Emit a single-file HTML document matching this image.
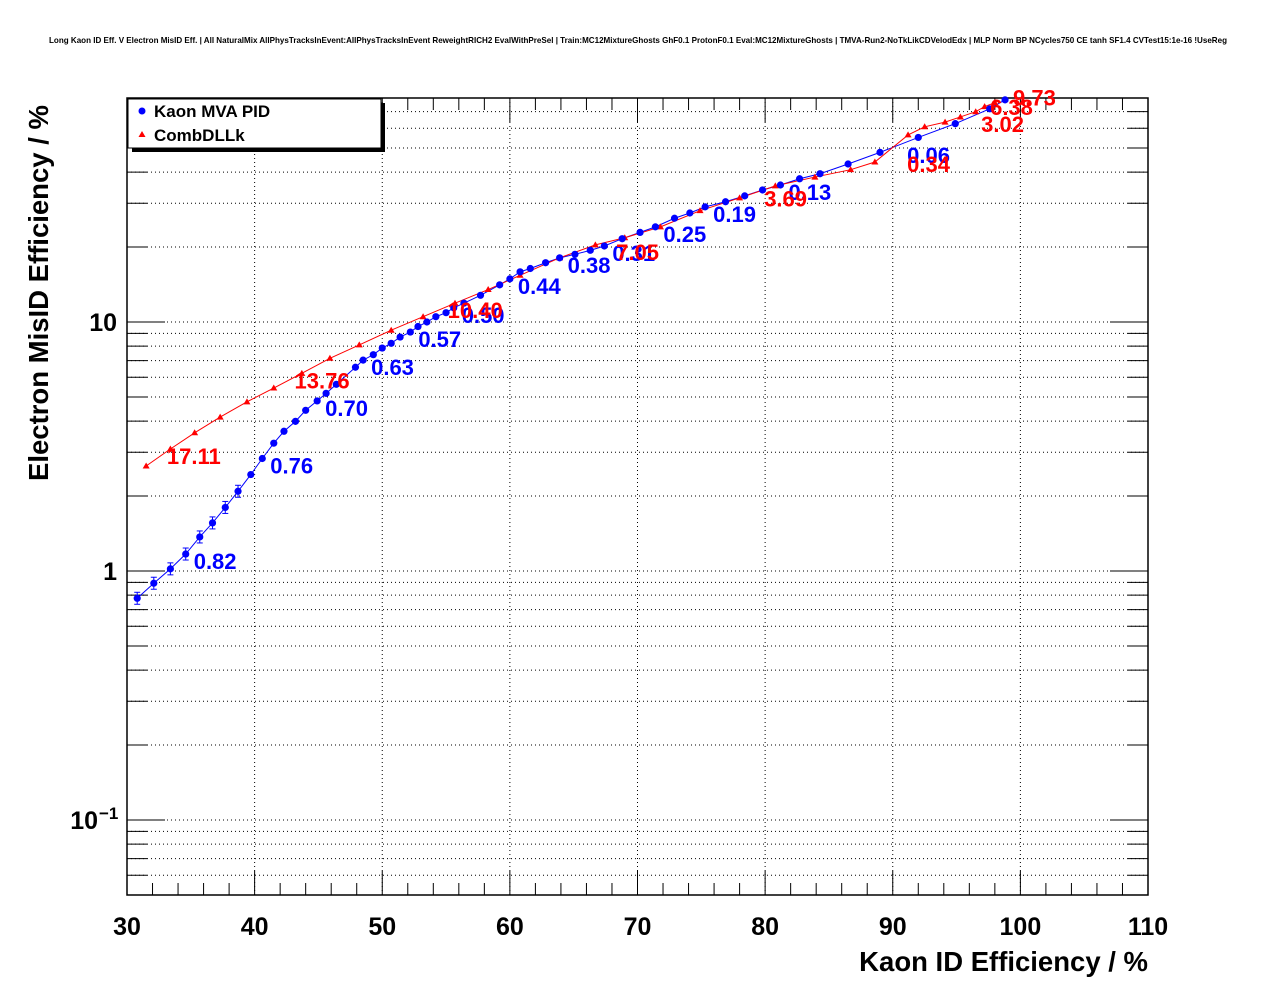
<!DOCTYPE html>
<html><head><meta charset="utf-8"><style>
body{margin:0;background:#fff;}
svg text{font-family:"Liberation Sans",Arial,sans-serif;font-weight:bold;}
</style></head><body>
<svg id="c" width="1276" height="996" xmlns="http://www.w3.org/2000/svg">
<rect width="1276" height="996" fill="#fff"/>
<text x="638" y="43" font-size="8.3" text-anchor="middle" font-weight="normal" textLength="1178" lengthAdjust="spacingAndGlyphs">Long Kaon ID Eff. V Electron MisID Eff. | All NaturalMix AllPhysTracksInEvent:AllPhysTracksInEvent ReweightRICH2 EvalWithPreSel | Train:MC12MixtureGhosts GhF0.1 ProtonF0.1 Eval:MC12MixtureGhosts | TMVA-Run2-NoTkLikCDVelodEdx | MLP Norm BP NCycles750 CE tanh SF1.4 CVTest15:1e-16 !UseReg</text>
<g id="grid"></g>
<g id="axes"></g>
<g id="series"></g>
<text x="1148" y="971" font-size="27.5" text-anchor="end">Kaon ID Efficiency / %</text>
<text transform="translate(48,481) rotate(-90)" font-size="27.5">Electron MisID Efficiency / %</text>
<g>
<rect x="132" y="103" width="253" height="49" fill="#000"/>
<rect x="128" y="99" width="253" height="49" fill="#fff" stroke="#000" stroke-width="1"/>
<circle cx="142" cy="111" r="3.5" fill="#0000ff"/>
<text x="154" y="117" font-size="17">Kaon MVA PID</text>
<path d="M142,131 l3.5,6 h-7 z" fill="#ff0000"/>
<text x="154" y="141" font-size="17">CombDLLk</text>
</g>
</svg>
<script>
const xTicks=[30,40,50,60,70,80,90,100,110];
const yDecades=[0.1,1,10];
const yDecadeLabels=["10","1","10"];
const yDecadeExps=["−1","",""];
const blueX=[30.8,32.1,33.4,34.6,35.7,36.7,37.7,38.7,39.7,40.6,41.5,42.3,43.2,44.0,44.9,45.6,46.4,47.9,48.5,49.3,50.0,50.7,51.4,52.2,52.8,53.5,54.2,55.0,55.6,56.4,57.7,59.2,60.0,60.8,61.6,62.8,63.9,65.1,66.3,67.4,68.8,70.2,71.4,72.9,74.1,75.3,76.9,78.4,79.8,81.2,82.7,84.3,86.5,89.0,92.0,94.9,97.6,98.8];
const blueY=[0.777,0.893,1.02,1.17,1.37,1.56,1.80,2.09,2.44,2.83,3.26,3.64,3.99,4.42,4.82,5.17,5.62,6.58,7.03,7.39,7.86,8.21,8.70,9.11,9.59,10.0,10.5,10.9,11.4,11.9,12.8,14.1,14.9,15.9,16.4,17.3,18.1,18.7,19.4,20.2,21.6,22.9,24.1,26.1,27.4,29.0,30.4,32.1,33.9,35.5,37.6,39.4,43.1,48.0,55.1,62.6,71.8,78.0];
const redX=[31.5,33.4,35.3,37.3,39.4,41.5,43.7,45.9,48.2,50.7,53.2,55.7,58.3,60.8,63.9,66.7,69.0,71.8,74.9,78.0,80.8,83.9,86.7,88.6,91.2,92.5,94.1,95.3,96.5,97.2,98.0];
const redY=[2.64,3.09,3.59,4.15,4.78,5.43,6.22,7.15,8.09,9.27,10.5,11.9,13.5,15.4,18.1,20.4,21.8,24.1,28.0,31.5,35.2,38.2,40.9,43.9,56.4,60.8,63.5,66.6,69.9,73.3,76.0];
const blueLabelX=[34.6,40.6,44.9,48.5,52.2,55.6,60.0,63.9,67.4,71.4,75.3,81.2,90.5];
const blueLabelY=[1.17,2.83,4.82,7.03,9.11,11.4,14.9,18.1,20.2,24.1,29.0,35.5,50.0];
const blueLabels=["0.82","0.76","0.70","0.63","0.57","0.50","0.44","0.38","0.31","0.25","0.19","0.13","0.06"];
const redLabelX=[32.5,42.5,54.5,67.7,79.3,90.5,97.0,98.8,96.3];
const redLabelY=[3.09,6.22,11.9,20.4,33.4,46.0,78.0,85.0,66.6];
const redLabels=["17.11","13.76","10.40","7.05","3.69","0.34","6.38","9.73","3.02"];

const L=127,R=1148,T=98,B=895;
const sx=v=>L+(v-30)*(R-L)/80;
const Y1=571,DEC=249;
const sy=v=>Y1-Math.log10(v)*DEC;
const NS="http://www.w3.org/2000/svg";
function mk(tag,attrs,parent){const e=document.createElementNS(NS,tag);for(const k in attrs)e.setAttribute(k,attrs[k]);parent.appendChild(e);return e;}
const grid=document.getElementById('grid'),axes=document.getElementById('axes'),ser=document.getElementById('series');
for(let v=30;v<=110;v+=2){
  const x=sx(v);const major=(v%10===0);
  if(major&&v>30&&v<110){const g=mk('line',{x1:x,x2:x,y1:T,y2:B,stroke:'#000','stroke-width':1,'stroke-dasharray':'1,3'},grid);
  }
  const len=major?24:12;
  mk('line',{x1:x,x2:x,y1:B,y2:B-len,stroke:'#000','stroke-width':1},axes);
  mk('line',{x1:x,x2:x,y1:T,y2:T+len,stroke:'#000','stroke-width':1},axes);
}
xTicks.forEach(v=>{const t=mk('text',{x:sx(v),y:935,'font-size':25,'text-anchor':'middle'},axes);t.textContent=v;
});
for(let d=-2;d<=1;d++){
  for(let m=1;m<=9;m++){
    const v=m*Math.pow(10,d);const y=sy(v);
    if(y<T||y>B)continue;
    const g=mk('line',{x1:L,x2:R,y1:y,y2:y,stroke:'#000','stroke-width':1,'stroke-dasharray':'1,3'},grid);
    
    const len=m===1?38:20;
    mk('line',{x1:L,x2:L+len,y1:y,y2:y,stroke:'#000','stroke-width':1},axes);
    mk('line',{x1:R,x2:R-len,y1:y,y2:y,stroke:'#000','stroke-width':1},axes);
  }
}
yDecades.forEach((v,i)=>{
  const hasExp=yDecadeExps[i]!=="";
  const t=mk('text',{x:hasExp?98:117,y:sy(v)+9,'font-size':25,'text-anchor':'end'},axes);t.textContent=yDecadeLabels[i];
  
  if(hasExp){const e=mk('text',{x:99,y:sy(v)-1,'font-size':17,'text-anchor':'start'},axes);e.textContent=yDecadeExps[i];
  }
});
mk('rect',{x:L,y:T,width:R-L,height:B-T,fill:'none',stroke:'#000','stroke-width':1.5},axes);
const bp=blueX.map((x,i)=>sx(x)+','+sy(blueY[i])).join(' ');
const bl=mk('polyline',{points:bp,fill:'none',stroke:'#0000ff','stroke-width':1},ser);

const rp=redX.map((x,i)=>sx(x)+','+sy(redY[i])).join(' ');
const rl=mk('polyline',{points:rp,fill:'none',stroke:'#ff0000','stroke-width':1},ser);

redX.forEach((x,i)=>{const cx=sx(x),cy=sy(redY[i]);
  const p=mk('path',{d:`M${cx},${cy-3.5} l3.5,6 h-7 z`,fill:'#ff0000'},ser);
  });
blueX.forEach((x,i)=>{const cx=sx(x),cy=sy(blueY[i]);
  if(blueY[i]<2.2){const e=6;mk('line',{x1:cx,x2:cx,y1:cy-e,y2:cy+e,stroke:'#0000ff'},ser);
    mk('line',{x1:cx-3,x2:cx+3,y1:cy-e,y2:cy-e,stroke:'#0000ff'},ser);mk('line',{x1:cx-3,x2:cx+3,y1:cy+e,y2:cy+e,stroke:'#0000ff'},ser);}
  const c=mk('circle',{cx:cx,cy:cy,r:3.6,fill:'#0000ff'},ser);
  });
blueLabels.forEach((s,i)=>{const t=mk('text',{x:sx(blueLabelX[i])+8,y:sy(blueLabelY[i])+15,'font-size':22,fill:'#0000ff'},ser);t.textContent=s;
});
redLabels.forEach((s,i)=>{const t=mk('text',{x:sx(redLabelX[i])+8,y:sy(redLabelY[i])+15,'font-size':22,fill:'#ff0000'},ser);t.textContent=s;
});
</script>
</body></html>
